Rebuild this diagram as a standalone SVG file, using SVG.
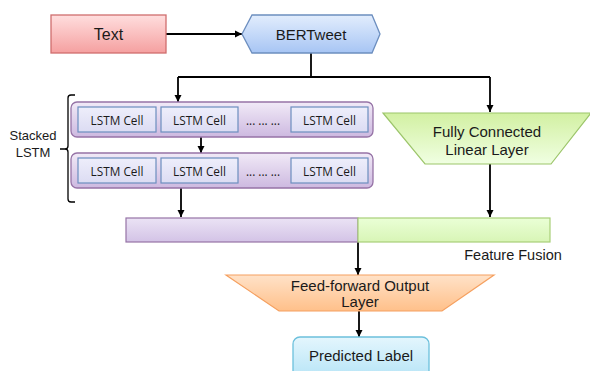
<svg xmlns="http://www.w3.org/2000/svg" width="590" height="371" viewBox="0 0 590 371">
<style>
text{font-family:"Liberation Sans",Arial,sans-serif;fill:#1a1a1a;text-anchor:middle;dominant-baseline:central}
.cell text{font-family:"Open Sans","Liberation Sans",sans-serif;font-size:11.8px}
.cellbox{fill:url(#gCell);stroke:#6c8ebf;stroke-width:1.2}
.row{fill:url(#gRow);stroke:#9673a6;stroke-width:1.3}
.conn{fill:none;stroke:#000;stroke-width:1.8}
</style>
<defs>
<linearGradient id="gRed" x1="0" y1="0" x2="0" y2="1"><stop offset="0" stop-color="#ffdede"/><stop offset="1" stop-color="#f5a0a0"/></linearGradient>
<linearGradient id="gBlue" x1="0" y1="0" x2="0" y2="1"><stop offset="0" stop-color="#e2edfd"/><stop offset="1" stop-color="#a7c5f4"/></linearGradient>
<linearGradient id="gRow" x1="0" y1="0" x2="0" y2="1"><stop offset="0" stop-color="#f1eaf7"/><stop offset="1" stop-color="#cdb9e0"/></linearGradient>
<linearGradient id="gCell" x1="0" y1="0" x2="0" y2="1"><stop offset="0" stop-color="#eeeefb"/><stop offset="1" stop-color="#dcdcf3"/></linearGradient>
<linearGradient id="gPurp" x1="0" y1="0" x2="0" y2="1"><stop offset="0" stop-color="#ebe3f5"/><stop offset="1" stop-color="#d3c3e6"/></linearGradient>
<linearGradient id="gGreen" x1="0" y1="0" x2="0" y2="1"><stop offset="0" stop-color="#d2f0a2"/><stop offset="1" stop-color="#f0ffe2"/></linearGradient>
<linearGradient id="gGreenBar" x1="0" y1="0" x2="0" y2="1"><stop offset="0" stop-color="#eaffd6"/><stop offset="1" stop-color="#d8f5b6"/></linearGradient>
<linearGradient id="gOrange" x1="0" y1="0" x2="0" y2="1"><stop offset="0" stop-color="#ffe2c8"/><stop offset="1" stop-color="#ffc08a"/></linearGradient>
<linearGradient id="gCyan" x1="0" y1="0" x2="0" y2="1"><stop offset="0" stop-color="#e4f6fd"/><stop offset="1" stop-color="#b3e3f6"/></linearGradient>
<marker id="arr" viewBox="0 0 8 8" refX="8" refY="4" markerWidth="4" markerHeight="4" orient="auto" markerUnits="strokeWidth"><path d="M0,0 L8,4 L0,8 Z" fill="#000"/></marker>
</defs>

<g id="connectors">
<path class="conn" d="M166,34 H242" marker-end="url(#arr)"/>
<path class="conn" d="M311,53 V77"/>
<path class="conn" d="M178,77 H490"/>
<path class="conn" d="M178,77 V102" marker-end="url(#arr)"/>
<path class="conn" d="M490,77 V112" marker-end="url(#arr)"/>
<path class="conn" d="M201,137 V153" marker-end="url(#arr)"/>
<path class="conn" d="M181,188 V217" marker-end="url(#arr)"/>
<path class="conn" d="M490,164 V217" marker-end="url(#arr)"/>
<path class="conn" d="M358,242 V275" marker-end="url(#arr)"/>
<path class="conn" d="M359,311 V337" marker-end="url(#arr)"/>
</g>

<g id="text-node">
<rect x="51" y="15" width="115" height="38" fill="url(#gRed)" stroke="#cf6e6e" stroke-width="1.3"/>
<text x="108.5" y="34" font-size="16">Text</text>
</g>

<g id="bertweet">
<polygon points="242,34 252,15 372,15 380,34 372,53 252,53" fill="url(#gBlue)" stroke="#6c8ebf" stroke-width="1.3"/>
<text x="311" y="34" font-size="15">BERTweet</text>
</g>

<g id="stacked-lstm">
<path d="M75,95 H71 Q68,95 68,98 V146 Q68,149 65,149 H60 M65,149 Q68,149 68,152 V199 Q68,202 71,202 H75" fill="none" stroke="#000" stroke-width="1.3"/>
<text x="33" y="135" font-size="13">Stacked</text>
<text x="33" y="152" font-size="13">LSTM</text>
</g>

<g id="lstm-row1" class="cell">
<rect class="row" x="71" y="102" width="302" height="35" rx="6"/>
<rect class="cellbox" x="78" y="107" width="78" height="25"/>
<text x="117" y="119.5">LSTM Cell</text>
<rect class="cellbox" x="161" y="107" width="77" height="25"/>
<text x="199.5" y="119.5">LSTM Cell</text>
<text x="263" y="119.5">... ... ...</text>
<rect class="cellbox" x="291" y="107" width="77" height="25"/>
<text x="329.5" y="119.5">LSTM Cell</text>
</g>

<g id="lstm-row2" class="cell">
<rect class="row" x="71" y="153" width="302" height="35" rx="6"/>
<rect class="cellbox" x="78" y="158" width="78" height="25"/>
<text x="117" y="170.5">LSTM Cell</text>
<rect class="cellbox" x="161" y="158" width="77" height="25"/>
<text x="199.5" y="170.5">LSTM Cell</text>
<text x="263" y="170.5">... ... ...</text>
<rect class="cellbox" x="291" y="158" width="77" height="25"/>
<text x="329.5" y="170.5">LSTM Cell</text>
</g>

<g id="fully-connected">
<polygon points="383,113 591,113 551,164 425,164" fill="url(#gGreen)" stroke="#9cc56a" stroke-width="1.2"/>
<text x="487" y="131" font-size="15">Fully Connected</text>
<text x="487" y="149" font-size="15">Linear Layer</text>
</g>

<g id="feature-fusion">
<rect x="126" y="218" width="232" height="24" fill="url(#gPurp)" stroke="#9673a6" stroke-width="1.2"/>
<rect x="358" y="218" width="192" height="24" fill="url(#gGreenBar)" stroke="#a8cf78" stroke-width="1.2"/>
<text x="513" y="255" font-size="14.5">Feature Fusion</text>
</g>

<g id="feed-forward">
<polygon points="226,275 494,275 442,311 279,311" fill="url(#gOrange)" stroke="#f5a060" stroke-width="1.2"/>
<text x="360" y="285" font-size="15">Feed-forward Output</text>
<text x="360" y="301" font-size="15">Layer</text>
</g>

<g id="predicted-label">
<rect x="293" y="337" width="136" height="44" rx="7" fill="url(#gCyan)" stroke="#6cc0dc" stroke-width="1.3"/>
<text x="361" y="355" font-size="15">Predicted Label</text>
</g>
</svg>
